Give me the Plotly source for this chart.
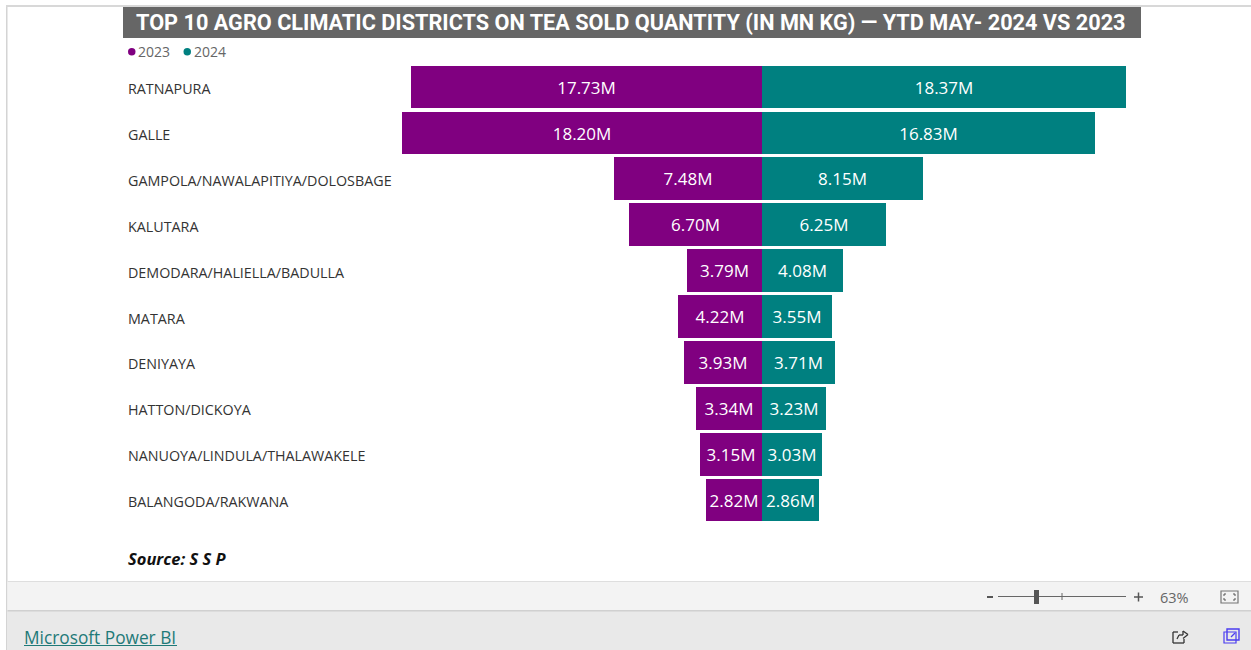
import plotly.graph_objects as go

districts = ["RATNAPURA", "GALLE", "GAMPOLA/NAWALAPITIYA/DOLOSBAGE", "KALUTARA",
             "DEMODARA/HALIELLA/BADULLA", "MATARA", "DENIYAYA", "HATTON/DICKOYA",
             "NANUOYA/LINDULA/THALAWAKELE", "BALANGODA/RAKWANA"]
sold_2023 = [17.73, 18.20, 7.48, 6.70, 3.79, 4.22, 3.93, 3.34, 3.15, 2.82]
sold_2024 = [18.37, 16.83, 8.15, 6.25, 4.08, 3.55, 3.71, 3.23, 3.03, 2.86]
title_text = "TOP 10 AGRO CLIMATIC DISTRICTS ON TEA SOLD QUANTITY (IN MN KG) \u2014 YTD MAY- 2024 VS 2023"

W, H = 1251, 650
PURPLE, TEAL = "#800080", "#008080"
BODY = "Open Sans"


def px(x):
    return x / W


def py(y):
    return 1 - y / H


def rect(x0, y0, x1, y1, fill):
    return dict(type="rect", xref="paper", yref="paper", x0=px(x0), x1=px(x1), y0=py(y0), y1=py(y1),
                fillcolor=fill, line=dict(width=0), layer="below")


def box(x0, y0, x1, y1, color, lw=1.2):
    return dict(type="rect", xref="paper", yref="paper", x0=px(x0), x1=px(x1), y0=py(y0), y1=py(y1),
                fillcolor="rgba(0,0,0,0)", line=dict(color=color, width=lw))


def seg(x0, y0, x1, y1, color="#666666", lw=1):
    return dict(type="line", xref="paper", yref="paper", x0=px(x0), x1=px(x1), y0=py(y0), y1=py(y1),
                line=dict(color=color, width=lw), layer="above")


def note(x, y, text, size, color, anchor="left", family=BODY):
    return dict(xref="paper", yref="paper", x=px(x), y=py(y), text=text, showarrow=False, xanchor=anchor,
                yanchor="middle", font=dict(family=family, size=size, color=color))


fig = go.Figure()
for name, vals, sign, color in (("2023", sold_2023, -1, PURPLE), ("2024", sold_2024, 1, TEAL)):
    fig.add_trace(go.Bar(
        name=name, y=districts, x=[sign * v for v in vals], orientation="h",
        marker=dict(color=color, line=dict(width=0)), width=0.93,
        text=[f"{v:.2f}M" for v in vals], textposition="inside", insidetextanchor="middle",
        textangle=0, constraintext="none",
        textfont=dict(family=BODY, size=17, color="white"),
        showlegend=False,
    ))

shapes = [
    rect(0, 0, W, H, "#ffffff"),
    rect(6, 5, 7.5, H, "#d4d4d4"),
    rect(6, 5, W, 7, "#d8d8d8"),
    rect(123, 7, 1141, 38, "#666666"),
    rect(7.5, 581, W, 611, "#f3f3f3"),
    rect(7.5, 581, W, 582, "#dedede"),
    rect(7.5, 610, W, H, "#e9e9e9"),
    rect(7.5, 610, W, 611.5, "#d0d0d0"),
    dict(type="circle", xref="paper", yref="paper", x0=px(128), x1=px(135.5), y0=py(48), y1=py(55.5),
         fillcolor=PURPLE, line=dict(width=0)),
    dict(type="circle", xref="paper", yref="paper", x0=px(183.5), x1=px(191), y0=py(48), y1=py(55.5),
         fillcolor=TEAL, line=dict(width=0)),
    # zoom slider
    seg(987, 597, 993, 597, "#555555", 2),
    seg(998, 596.5, 1126, 596.5, "#666666", 1),
    rect(1034, 590, 1039, 604, "#555555") | dict(layer="above"),
    seg(1062, 593, 1062, 600, "#666666", 1),
    seg(1134, 597, 1143, 597, "#555555", 1.5),
    seg(1138.5, 592.5, 1138.5, 601.5, "#555555", 1.5),
    # fit-to-page icon with corner brackets
    box(1221, 591, 1238, 603, "#777777", 1.2),
    seg(1224, 594, 1226, 594, "#555555", 1), seg(1224, 594, 1224, 596, "#555555", 1),
    seg(1233, 594, 1235, 594, "#555555", 1), seg(1235, 594, 1235, 596, "#555555", 1),
    seg(1224, 600, 1226, 600, "#555555", 1), seg(1224, 598, 1224, 600, "#555555", 1),
    seg(1233, 600, 1235, 600, "#555555", 1), seg(1235, 598, 1235, 600, "#555555", 1),
    # share icon: open box with arrow
    seg(1173, 632, 1178, 632, "#333333", 1.3), seg(1173, 632, 1173, 643, "#333333", 1.3),
    seg(1173, 643, 1184, 643, "#333333", 1.3), seg(1184, 643, 1184, 639, "#333333", 1.3),
    seg(1177, 639, 1179, 635, "#333333", 1.3), seg(1179, 635, 1183, 635, "#333333", 1.3),
    seg(1183, 631, 1188, 634.5, "#333333", 1.3), seg(1188, 634.5, 1183, 638.5, "#333333", 1.3),
    seg(1183, 631, 1183, 635, "#333333", 1.3),
    # open-in-new icon
    box(1227, 629, 1239, 640, "#4b3cf0", 1.4),
    box(1224, 632, 1236, 643, "#4b3cf0", 1.2),
    seg(1231, 637, 1235, 633, "#4b3cf0", 1.2),
    # link underline
    seg(24, 645.5, 177, 645.5, "#1f7a78", 1),
]

annotations = [
    note(134, 22, f"<b>{title_text}</b>", 21.7, "#ffffff", family="Roboto"),
    note(135.5, 52, "2023", 14, "#666666"),
    note(192, 52, "2024", 14, "#666666"),
    note(126, 558, "<b><i>Source: S S P</i></b>", 16.5, "#111111"),
    note(22, 637, "Microsoft Power BI", 17.3, "#1f7a78"),
    note(1158, 597, "63%", 14.5, "#666666"),
]
annotations += [dict(xref="paper", yref="y", x=px(126), y=d, text=d, showarrow=False, xanchor="left",
                     yshift=-1.5, font=dict(family=BODY, size=14.3, color="#333333")) for d in districts]

CENTER_X, PX_PER_M = 762, 19.79
ROW0, ROW_H = 87, 45.9
fig.update_layout(
    width=W, height=H, margin=dict(l=0, r=0, t=0, b=0), autosize=False,
    paper_bgcolor="white", plot_bgcolor="rgba(0,0,0,0)", barmode="relative", bargap=0,
    font=dict(family=BODY),
    xaxis=dict(range=[-CENTER_X / PX_PER_M, (W - CENTER_X) / PX_PER_M], domain=[0, 1], visible=False, fixedrange=True),
    yaxis=dict(categoryorder="array", categoryarray=districts, range=[(H - ROW0) / ROW_H, -ROW0 / ROW_H],
               domain=[0, 1], showticklabels=False, showgrid=False, zeroline=False, ticks="", fixedrange=True),
    shapes=shapes, annotations=annotations,
)
fig.write_html("out.html", config=dict(displayModeBar=False),
               post_script="document.body.style.margin='0';document.body.style.overflow='hidden';")
